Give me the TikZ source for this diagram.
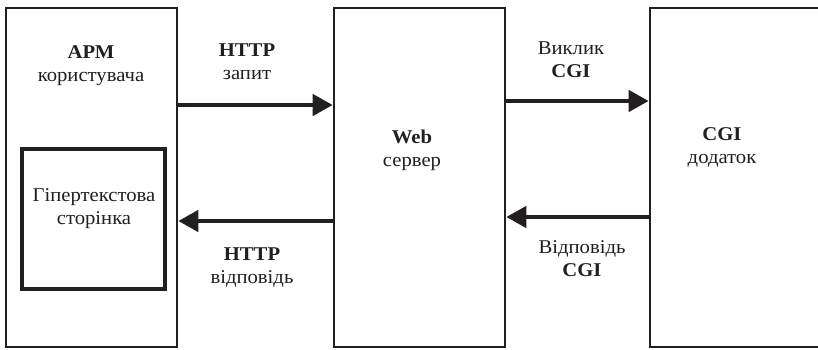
\documentclass[tikz,border=0pt]{standalone}
\usepackage{fontspec}
\setmainfont[FakeStretch=1.06]{Liberation Serif}
\usetikzlibrary{arrows.meta}
\definecolor{ink}{HTML}{231F20}
\tikzset{
  blk/.style={draw=ink, line width=2.6pt, minimum width=171pt, minimum height=339pt, inner sep=0pt},
  inner/.style={draw=ink, line width=3.4pt, minimum width=143pt, minimum height=140pt, inner sep=0pt},
  arr/.style={draw=ink, line width=4.5pt, -{Triangle[length=20pt,width=21pt]}},
  lbl/.style={align=center, text=ink, font=\fontsize{19.5}{23}\selectfont, inner sep=0pt}
}
\begin{document}
\begin{tikzpicture}[x=1pt,y=1pt]
\useasboundingbox (0,0) rectangle (818,350);
\clip (0,0) rectangle (818,350);
\fill[white] (0,0) rectangle (818,350);
% boxes
\node[blk] (apm) at (91.5,172.5) {};
\node[blk] (web) at (419.5,172.5) {};
\node[blk] (cgi) at (735.5,172.5) {};
\node[inner] (page) at (93.5,131) {};
% box texts
\node[lbl] (apmt) at (91,284) {\textbf{АРМ}\\користувача};
\node[lbl] (paget) at (94,141) {Гіпертекстова\\сторінка};
\node[lbl] (webt) at (412,200) {\textbf{Web}\\сервер};
\node[lbl] (cgit) at (722,203) {\textbf{CGI}\\додаток};
% arrows
\draw[arr] ([yshift=72.5pt]apm.east) -- ([yshift=72.5pt]web.west);
\draw[arr] ([yshift=-43.5pt]web.west) -- ([yshift=-43.5pt]apm.east);
\draw[arr] ([yshift=76.5pt]web.east) -- ([yshift=76.5pt]cgi.west);
\draw[arr] ([yshift=-39.5pt]cgi.west) -- ([yshift=-39.5pt]web.east);
% arrow labels
\node[lbl] (l1) at (247,288) {\textbf{HTTP}\\запит};
\node[lbl] (l2) at (252,82) {\textbf{HTTP}\\відповідь};
\node[lbl] (l3) at (571,290) {Виклик\\\textbf{CGI}};
\node[lbl] (l4) at (582,91) {Відповідь\\\textbf{CGI}};
\end{tikzpicture}
\end{document}
